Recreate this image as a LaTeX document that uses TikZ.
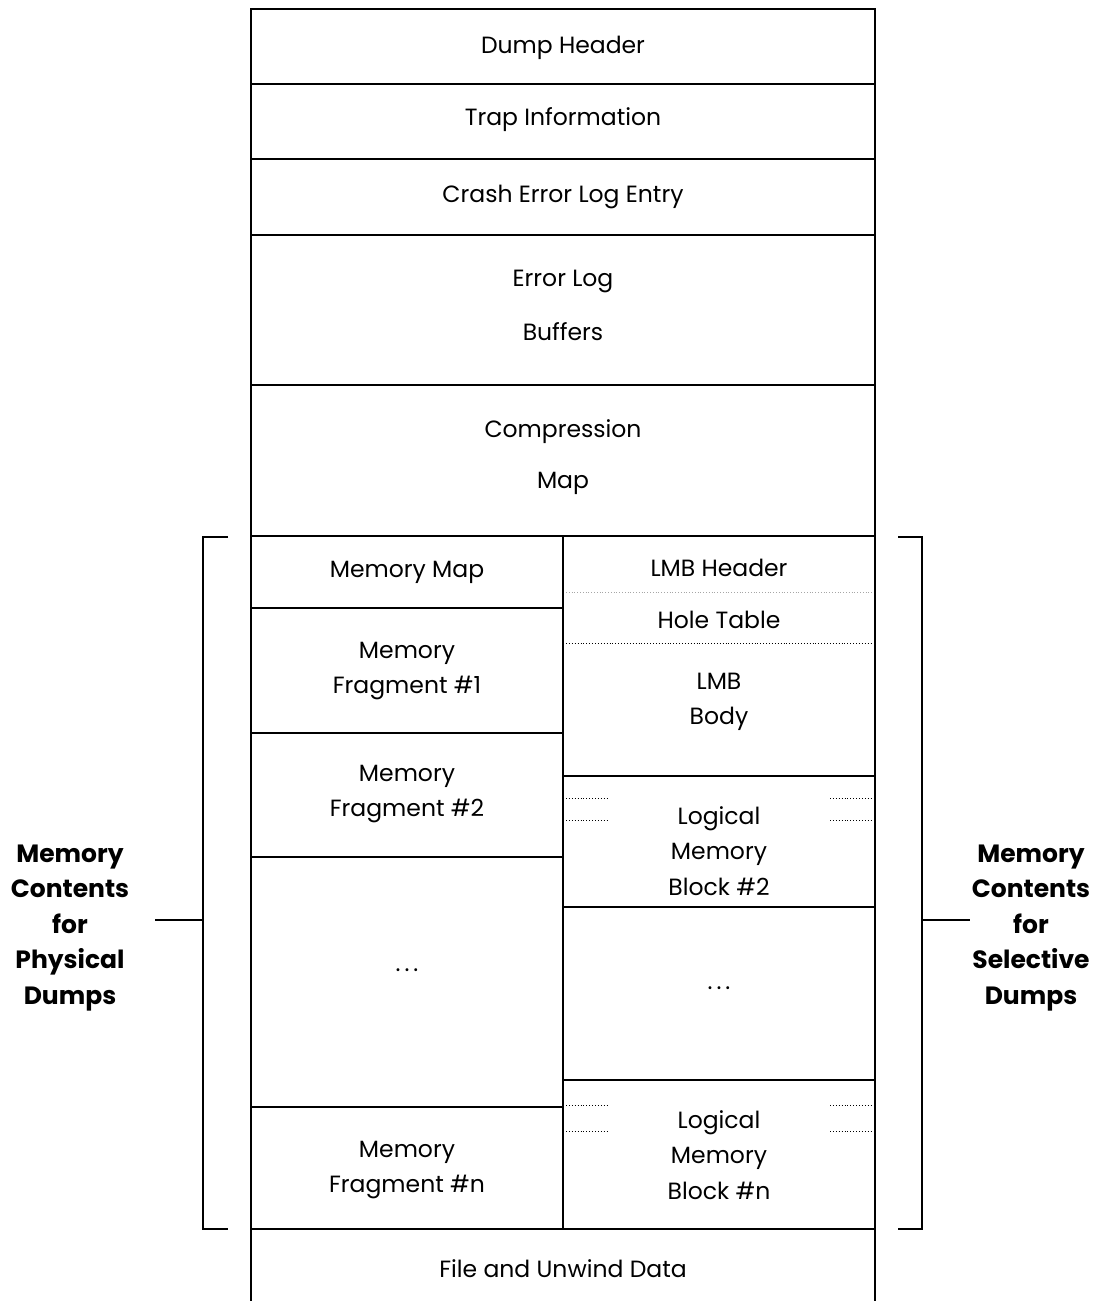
\documentclass[tikz,border=0pt]{standalone}
\usepackage{fontspec}
\setmainfont{Poppins}
\begin{document}
\begin{tikzpicture}[x=1pt,y=-1pt,
  ln/.style={line width=1.8pt},
  dotg/.style={line width=0.8pt,dotted,gray!70},
  dotk/.style={line width=0.9pt,dotted},
  txt/.style={font=\fontsize{23.5}{35.5}\selectfont,align=center,inner sep=0pt},
  lbl/.style={font=\fontsize{25}{35.5}\selectfont\bfseries,align=center,inner sep=0pt}]
\useasboundingbox (0,0) rectangle (1103,1301);
% outer frame
\draw[ln] (251,1301) -- (251,9) -- (875,9) -- (875,1301);
\foreach \y in {84,159,235,385,536,1229} \draw[ln] (251,\y) -- (875,\y);
\draw[ln] (563,536) -- (563,1229);
\foreach \y in {608,733,857,1107} \draw[ln] (251,\y) -- (563,\y);
\foreach \y in {776,907,1080} \draw[ln] (563,\y) -- (875,\y);
\draw[dotg] (566,592) -- (872,592);
\draw[dotk] (566,643) -- (872,643);
\foreach \y in {798,820,1105,1131} {
  \draw[dotk] (566,\y) -- (608,\y);
  \draw[dotk] (830,\y) -- (873,\y);
}
% brackets
\draw[ln] (228,537) -- (203,537) -- (203,1229) -- (228,1229);
\draw[ln] (155,920) -- (203,920);
\draw[ln] (898,537) -- (922,537) -- (922,1229) -- (898,1229);
\draw[ln] (922,920) -- (970,920);
% texts
\node[txt] (dh) at (563,48) {Dump Header};
\node[txt] (ti) at (563,120) {Trap Information};
\node[txt] (ce) at (563,197) {Crash Error Log Entry};
\node[txt] (el1) at (563,281) {Error Log};
\node[txt] (el2) at (563,332) {Buffers};
\node[txt] (cm1) at (563,432) {Compression};
\node[txt] (cm2) at (563,483) {Map};
\node[txt] (mm) at (407,572) {Memory Map};
\node[txt] (mf1) at (407,671) {Memory\\Fragment \#1};
\node[txt] (mf2) at (407,794) {Memory\\Fragment \#2};
\node[txt] (dl) at (407,970) {.\,.\,.};
\node[txt] (mfn) at (407,1170) {Memory\\Fragment \#n};
\node[txt] (lh) at (719,568) {LMB Header};
\node[txt] (ht) at (719,620) {Hole Table};
\node[txt] (lb) at (719,702) {LMB\\Body};
\node[txt] (lm2) at (719,851) {Logical\\Memory\\Block \#2};
\node[txt] (dr) at (719,988) {.\,.\,.};
\node[txt] (lmn) at (719,1155) {Logical\\Memory\\Block \#n};
\node[txt] (fu) at (563,1269) {File and Unwind Data};
\node[lbl] (lp) at (70,928) {Memory\\Contents\\for\\Physical\\Dumps};
\node[lbl] (ls) at (1031,928) {Memory\\Contents\\for\\Selective\\Dumps};
\end{tikzpicture}
\end{document}
